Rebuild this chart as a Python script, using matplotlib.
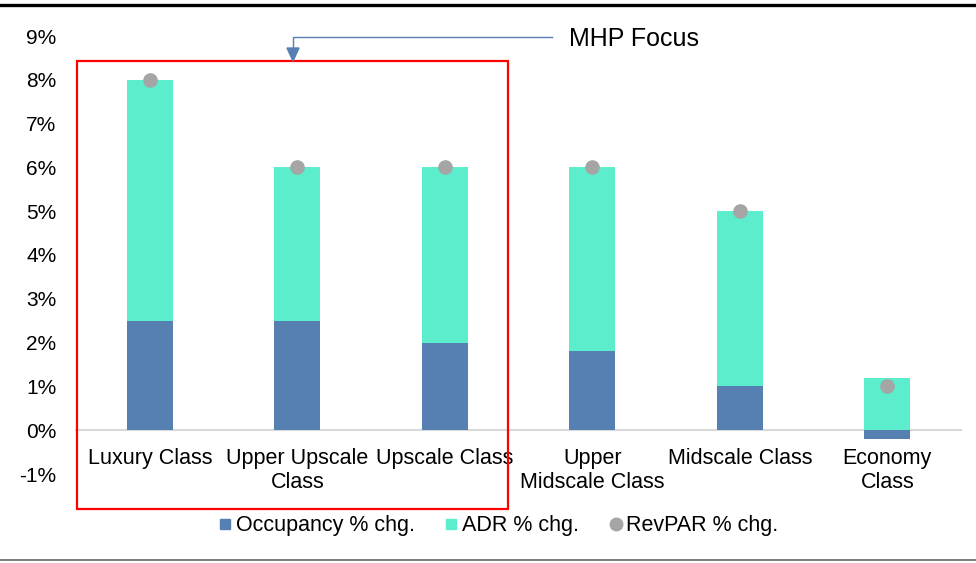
import matplotlib
matplotlib.use("Agg")
import matplotlib.pyplot as plt
from matplotlib.lines import Line2D
from matplotlib.patches import Rectangle
import numpy as np

plt.rcParams['font.family'] = ['Liberation Sans', 'DejaVu Sans']

categories = ["Luxury Class", "Upper Upscale\nClass", "Upscale Class",
              "Upper\nMidscale Class", "Midscale Class", "Economy\nClass"]
occupancy = [2.5, 2.5, 2.0, 1.8, 1.0, -0.2]
adr = [5.5, 3.5, 4.0, 4.2, 4.0, 1.2]
revpar = [8.0, 6.0, 6.0, 6.0, 5.0, 1.0]
yticks = [-1, 0, 1, 2, 3, 4, 5, 6, 7, 8, 9]

occ_color = "#5580b1"
adr_color = "#5cedcc"
rev_color = "#a5a5a5"

W, H = 976, 563
fig = plt.figure(figsize=(W / 100, H / 100), dpi=100)


def fx(px):
    return px / W


def fy(py):
    return 1 - py / H


ax = fig.add_axes([fx(76), fy(474), fx(961) - fx(76), fy(36) - fy(474)])

x = np.arange(len(categories))
occ = np.array(occupancy)
adr_base = np.where(occ > 0, occ, 0)
ax.bar(x, occ, width=0.31, color=occ_color, label="Occupancy % chg.", zorder=2)
ax.bar(x, adr, width=0.31, bottom=adr_base, color=adr_color,
       label="ADR % chg.", zorder=2)
ax.plot(x, revpar, linestyle="none", marker="o", markersize=9.5,
        color=rev_color, label="RevPAR % chg.", zorder=3)

ax.set_xlim(-0.5, len(categories) - 0.5)
ax.set_ylim(-1, 9)

for side in ("top", "right", "left"):
    ax.spines[side].set_visible(False)
ax.spines["bottom"].set_position(("data", 0))
ax.spines["bottom"].set_color("#d9d9d9")
ax.spines["bottom"].set_linewidth(1.5)
ax.spines["bottom"].set_zorder(1)

ax.set_yticks(yticks)
ax.set_yticklabels([f"{v}%" for v in yticks])
ax.set_xticks(x)
ax.set_xticklabels(categories)
ax.tick_params(axis="x", length=0, pad=13, labelsize=15.5)
ax.tick_params(axis="y", length=0, pad=14, labelsize=15)

# Legend below the plot
handles = [
    Line2D([], [], linestyle="none", marker="s", markersize=7, color=occ_color),
    Line2D([], [], linestyle="none", marker="s", markersize=7, color=adr_color),
    Line2D([], [], linestyle="none", marker="o", markersize=9, color=rev_color),
]
fig.legend(handles, ["Occupancy % chg.", "ADR % chg.", "RevPAR % chg."],
           loc="center", bbox_to_anchor=(fx(499), fy(526)), ncol=3,
           frameon=False, fontsize=15.5, handlelength=0.5, handletextpad=0.25,
           columnspacing=1.45)

# Highlight box around the focus segments
fig.add_artist(Rectangle((fx(77), fy(509)), fx(508) - fx(77), fy(61) - fy(509),
                         transform=fig.transFigure, fill=False,
                         edgecolor="#ff0000", linewidth=1.6))

# Callout arrow and label
fig.add_artist(Line2D([fx(552), fx(293), fx(293)], [fy(37), fy(37), fy(48)],
                      transform=fig.transFigure, color=occ_color, linewidth=1.0))
fig.add_artist(plt.Polygon([[fx(287), fy(48)], [fx(299), fy(48)], [fx(293), fy(61)]],
                           closed=True, transform=fig.transFigure,
                           facecolor=occ_color, edgecolor=occ_color))
fig.text(fx(569), fy(39), "MHP Focus", fontsize=18, va="center", ha="left")

# Rules at top and bottom of the exhibit
fig.add_artist(Line2D([0, 1], [fy(5), fy(5)], transform=fig.transFigure,
                      color="black", linewidth=2.4))
fig.add_artist(Line2D([0, 1], [fy(560), fy(560)], transform=fig.transFigure,
                      color="#666666", linewidth=1.2))

fig.savefig("out.png", dpi=100)
